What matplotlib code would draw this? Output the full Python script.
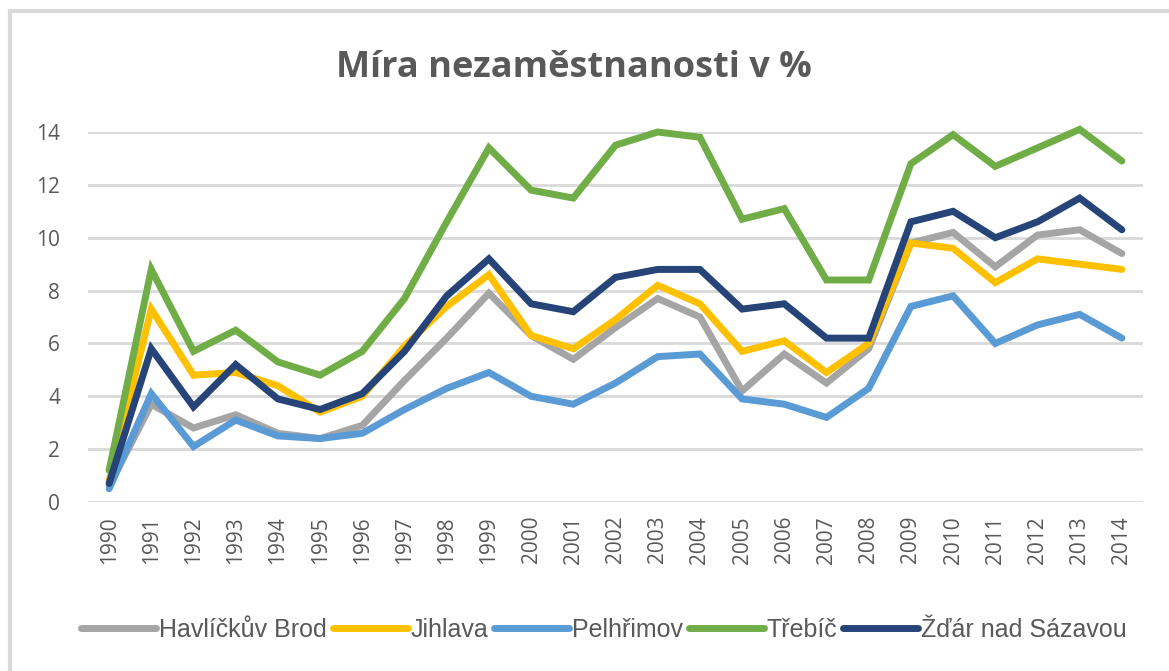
import matplotlib
matplotlib.use("Agg")
import matplotlib.pyplot as plt
from matplotlib.patches import Rectangle
from matplotlib import font_manager

# Data (unemployment rate in %)
years = [str(y) for y in range(1990, 2015)]
havlickuv_brod = [0.6, 3.7, 2.8, 3.3, 2.6, 2.4, 2.9, 4.6, 6.2, 7.9, 6.3, 5.4, 6.6, 7.7, 7.0,
                  4.2, 5.6, 4.5, 5.8, 9.8, 10.2, 8.9, 10.1, 10.3, 9.4]
jihlava = [0.8, 7.3, 4.8, 4.9, 4.4, 3.4, 4.0, 5.9, 7.4, 8.6, 6.3, 5.8, 6.9, 8.2, 7.5,
           5.7, 6.1, 4.9, 6.0, 9.8, 9.6, 8.3, 9.2, 9.0, 8.8]
pelhrimov = [0.5, 4.1, 2.1, 3.1, 2.5, 2.4, 2.6, 3.5, 4.3, 4.9, 4.0, 3.7, 4.5, 5.5, 5.6,
             3.9, 3.7, 3.2, 4.3, 7.4, 7.8, 6.0, 6.7, 7.1, 6.2]
trebic = [1.2, 8.8, 5.7, 6.5, 5.3, 4.8, 5.7, 7.7, 10.6, 13.4, 11.8, 11.5, 13.5, 14.0, 13.8,
          10.7, 11.1, 8.4, 8.4, 12.8, 13.9, 12.7, 13.4, 14.1, 12.9]
zdar = [0.7, 5.8, 3.6, 5.2, 3.9, 3.5, 4.1, 5.7, 7.8, 9.2, 7.5, 7.2, 8.5, 8.8, 8.8,
        7.3, 7.5, 6.2, 6.2, 10.6, 11.0, 10.0, 10.6, 11.5, 10.3]

series = [
    ("Havlíčkův Brod", havlickuv_brod, "#a5a5a5"),
    ("Jihlava", jihlava, "#ffc000"),
    ("Pelhřimov", pelhrimov, "#5b9bd5"),
    ("Třebíč", trebic, "#70ad47"),
    ("Žďár nad Sázavou", zdar, "#264478"),
]

names = {f.name for f in font_manager.fontManager.ttflist}
narrow = "Liberation Sans Narrow" if "Liberation Sans Narrow" in names else "Liberation Sans"
text_color = "#595959"

fig = plt.figure(figsize=(11.69, 6.71), dpi=100)
ax = fig.add_axes([88 / 1169, 1 - 502 / 671, (1143 - 88) / 1169, (502 - 132) / 671])

x = list(range(len(years)))
for name, vals, color in series:
    ax.plot(x, vals, color=color, linewidth=5, label=name, clip_on=False,
            solid_capstyle="round", solid_joinstyle="miter")

ax.set_xlim(-0.5, len(years) - 0.5)
ax.set_ylim(0, 14)
ax.set_yticks(range(0, 15, 2))
ax.set_xticks(x)
ax.set_xticklabels(years, rotation=90, fontsize=15, color=text_color, family="Open Sans")
for lbl in ax.get_yticklabels():
    lbl.set_fontsize(15)
    lbl.set_color(text_color)
    lbl.set_family("Open Sans")
ax.tick_params(length=0, pad=10)
ax.tick_params(axis="y", pad=20)
ax.grid(axis="y", color="#d9d9d9", linewidth=2)
ax.set_axisbelow(True)
for sp in ax.spines.values():
    sp.set_visible(False)

fig.text(574 / 1169, 1 - 68 / 671, "Míra nezaměstnanosti v %", ha="center", va="center",
         fontsize=26, fontweight="bold", color=text_color, family="Open Sans")

leg = fig.legend(loc="center", bbox_to_anchor=(604 / 1169, 1 - 630 / 671), ncol=5,
                 frameon=False, handlelength=3.0, handletextpad=0.1, columnspacing=0.25,
                 prop={"family": narrow, "size": 18})
for t in leg.get_texts():
    t.set_color(text_color)

# light gray chart frame
fig.patches.append(Rectangle((10 / 1169, -0.05), 1.2, 1 - 11 / 671 + 0.05,
                             transform=fig.transFigure, fill=False,
                             edgecolor="#d9d9d9", linewidth=3))

fig.savefig("out.png", dpi=100)
